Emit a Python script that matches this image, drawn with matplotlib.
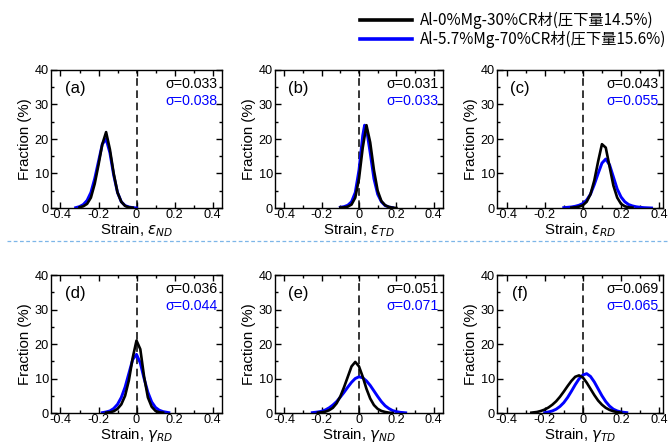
import matplotlib
matplotlib.use("Agg")
import matplotlib.pyplot as plt
from matplotlib.lines import Line2D
from matplotlib.ticker import MultipleLocator, FixedLocator, FixedFormatter

plt.rcParams['font.family'] = ['Liberation Sans', 'DejaVu Sans']
plt.rcParams['mathtext.fontset'] = 'dejavusans'

legend_labels = ["Al-0%Mg-30%CR材(圧下量14.5%)", "Al-5.7%Mg-70%CR材(圧下量15.6%)"]
panel_labels = ["(a)", "(b)", "(c)", "(d)", "(e)", "(f)"]
xlabels = [r"Strain, $\varepsilon_{ND}$", r"Strain, $\varepsilon_{TD}$", r"Strain, $\varepsilon_{RD}$",
           r"Strain, $\gamma_{RD}$", r"Strain, $\gamma_{ND}$", r"Strain, $\gamma_{TD}$"]
sigma_black = ["σ=0.033", "σ=0.031", "σ=0.043", "σ=0.036", "σ=0.051", "σ=0.069"]
sigma_blue = ["σ=0.038", "σ=0.033", "σ=0.055", "σ=0.044", "σ=0.071", "σ=0.065"]
xtick_vals = [-0.4, -0.2, 0, 0.2, 0.4]
xtick_labels = ["-0.4", "-0.2", "0", "0.2", "0.4"]
ytick_vals = [0, 10, 20, 30, 40]

# (a)
a_bx = [-0.30, -0.28, -0.26, -0.24, -0.22, -0.20, -0.18, -0.16, -0.14, -0.12, -0.10, -0.08, -0.06, -0.04, -0.02]
a_by = [0.2, 0.5, 1.2, 3.0, 7.0, 12.5, 18.5, 22.0, 17.0, 10.0, 4.5, 1.8, 0.6, 0.2, 0.1]
a_ux = [-0.32, -0.30, -0.28, -0.26, -0.24, -0.22, -0.20, -0.18, -0.16, -0.14, -0.12, -0.10, -0.08, -0.06, -0.04, -0.02, 0.0]
a_uy = [0.1, 0.4, 1.0, 2.2, 4.5, 8.5, 13.5, 18.5, 20.0, 16.0, 9.5, 4.5, 1.8, 0.7, 0.3, 0.1, 0.0]
# (b)
b_bx = [-0.10, -0.08, -0.06, -0.04, -0.02, 0.00, 0.02, 0.04, 0.06, 0.08, 0.10, 0.12, 0.14, 0.16, 0.18, 0.20]
b_by = [0.1, 0.2, 0.4, 1.0, 3.0, 8.5, 17.5, 24.0, 19.0, 11.0, 5.0, 2.0, 0.8, 0.3, 0.1, 0.0]
b_ux = [-0.10, -0.08, -0.06, -0.04, -0.02, 0.00, 0.02, 0.03, 0.04, 0.06, 0.08, 0.10, 0.12, 0.14, 0.16, 0.18]
b_uy = [0.2, 0.4, 0.8, 1.8, 4.5, 11.0, 21.0, 24.0, 23.0, 16.0, 8.5, 4.0, 1.8, 0.7, 0.3, 0.1]
# (c)
c_bx = [-0.06, -0.04, -0.02, 0.00, 0.02, 0.04, 0.06, 0.08, 0.10, 0.12, 0.14, 0.16, 0.18, 0.20, 0.22, 0.24, 0.26]
c_by = [0.1, 0.2, 0.4, 0.8, 1.8, 4.0, 8.0, 13.5, 18.5, 17.5, 12.0, 6.5, 3.0, 1.2, 0.5, 0.2, 0.1]
c_ux = [-0.10, -0.08, -0.06, -0.04, -0.02, 0.00, 0.02, 0.04, 0.06, 0.08, 0.10, 0.12, 0.14, 0.16, 0.18,
        0.20, 0.22, 0.24, 0.26, 0.28, 0.30, 0.32, 0.34, 0.36]
c_uy = [0.1, 0.2, 0.3, 0.5, 0.8, 1.3, 2.3, 4.0, 6.8, 10.0, 13.0, 14.2, 12.5, 9.0, 5.5,
        3.2, 1.8, 1.0, 0.6, 0.35, 0.2, 0.1, 0.05, 0.0]
# (d)
d_bx = [-0.16, -0.14, -0.12, -0.10, -0.08, -0.06, -0.04, -0.02, 0.00, 0.02, 0.04, 0.06, 0.08, 0.10, 0.12, 0.14]
d_by = [0.1, 0.2, 0.5, 1.2, 2.5, 5.0, 9.5, 16.0, 21.0, 18.5, 10.5, 4.5, 1.8, 0.6, 0.2, 0.1]
d_ux = [-0.18, -0.16, -0.14, -0.12, -0.10, -0.08, -0.06, -0.04, -0.02, 0.00, 0.02, 0.04, 0.06, 0.08,
        0.10, 0.12, 0.14, 0.16, 0.17]
d_uy = [0.1, 0.3, 0.6, 1.3, 2.5, 4.5, 7.5, 11.5, 15.5, 17.0, 14.5, 10.0, 6.0, 3.2, 1.6, 0.8, 0.4, 0.2, 0.1]
# (e)
e_bx = [-0.22, -0.20, -0.18, -0.16, -0.14, -0.12, -0.10, -0.08, -0.06, -0.04, -0.02, 0.00, 0.02, 0.04,
        0.06, 0.08, 0.10, 0.12, 0.14, 0.16, 0.18]
e_by = [0.1, 0.2, 0.4, 0.8, 1.5, 2.8, 4.8, 7.5, 10.5, 13.5, 14.8, 13.5, 10.5, 7.0, 4.2, 2.3, 1.2, 0.6, 0.3, 0.1, 0.0]
e_ux = [-0.25, -0.22, -0.20, -0.18, -0.16, -0.14, -0.12, -0.10, -0.08, -0.06, -0.04, -0.02, 0.00, 0.02,
        0.04, 0.06, 0.08, 0.10, 0.12, 0.14, 0.16, 0.18, 0.20, 0.22, 0.25]
e_uy = [0.1, 0.3, 0.5, 0.9, 1.5, 2.3, 3.3, 4.6, 6.0, 7.5, 8.9, 10.0, 10.5, 10.2, 9.3, 8.0, 6.4, 4.8, 3.3,
        2.1, 1.3, 0.7, 0.4, 0.2, 0.05]
# (f)
f_bx = [-0.27, -0.24, -0.22, -0.20, -0.18, -0.16, -0.14, -0.12, -0.10, -0.08, -0.06, -0.04, -0.02, 0.00,
        0.02, 0.04, 0.06, 0.08, 0.10, 0.12, 0.14, 0.16, 0.18, 0.20]
f_by = [0.1, 0.3, 0.6, 1.0, 1.6, 2.4, 3.4, 4.7, 6.2, 7.8, 9.3, 10.5, 10.9, 10.3, 8.8, 7.0, 5.2, 3.6, 2.4,
        1.5, 0.9, 0.5, 0.25, 0.1]
f_ux = [-0.20, -0.18, -0.16, -0.14, -0.12, -0.10, -0.08, -0.06, -0.04, -0.02, 0.00, 0.02, 0.04, 0.06,
        0.08, 0.10, 0.12, 0.14, 0.16, 0.18, 0.20, 0.23]
f_uy = [0.1, 0.3, 0.6, 1.1, 1.9, 3.0, 4.5, 6.3, 8.2, 9.9, 11.0, 11.4, 10.6, 9.0, 7.0, 5.0, 3.3, 2.0, 1.1,
        0.6, 0.3, 0.1]

black_series = [(a_bx, a_by), (b_bx, b_by), (c_bx, c_by), (d_bx, d_by), (e_bx, e_by), (f_bx, f_by)]
blue_series = [(a_ux, a_uy), (b_ux, b_uy), (c_ux, c_uy), (d_ux, d_uy), (e_ux, e_uy), (f_ux, f_uy)]

W, H = 670, 444
fig = plt.figure(figsize=(W / 100, H / 100), dpi=100)

# pixel boxes: left, top, right, bottom
boxes = [(51, 70, 222, 208), (275, 70, 443, 208), (497, 70, 663, 208),
         (51, 275, 222, 413), (275, 275, 443, 413), (497, 275, 663, 413)]
xlims = [(-0.45, 0.45), (-0.45, 0.45), (-0.45, 0.42),
         (-0.45, 0.45), (-0.45, 0.45), (-0.45, 0.42)]

BLUE = '#0000FF'
handles = None
for i, (l, t, r, b) in enumerate(boxes):
    ax = fig.add_axes([l / W, 1 - b / H, (r - l) / W, (b - t) / H])
    ax.axvline(0, color='black', ls=(0, (5, 3)), lw=1.1, zorder=1)
    hb, = ax.plot(*black_series[i], color='black', lw=1.9, zorder=3)
    hu, = ax.plot(*blue_series[i], color=BLUE, lw=2.1, zorder=2)
    if handles is None:
        handles = [hb, hu]
    ax.set_xlim(*xlims[i])
    ax.set_ylim(0, 40)
    ax.xaxis.set_major_locator(FixedLocator(xtick_vals))
    ax.xaxis.set_major_formatter(FixedFormatter(xtick_labels))
    ax.xaxis.set_minor_locator(MultipleLocator(0.1))
    ax.yaxis.set_major_locator(FixedLocator(ytick_vals))
    ax.yaxis.set_minor_locator(MultipleLocator(5))
    ax.tick_params(which='both', direction='in', top=True, right=True, width=1.0)
    ax.tick_params(which='major', length=4.5, labelsize=9.2)
    ax.tick_params(axis='x', which='major', pad=1.0)
    ax.tick_params(axis='y', which='major', pad=1.5)
    ax.tick_params(which='minor', length=2.5)
    for s in ax.spines.values():
        s.set_linewidth(1.0)
    ax.set_xlabel(xlabels[i], fontsize=10.8, labelpad=0)
    ax.set_ylabel("Fraction (%)", fontsize=10.8, labelpad=2)
    ax.text(0.14, 0.865, panel_labels[i], transform=ax.transAxes, fontsize=12,
            ha='center', va='center')
    ax.text(0.975, 0.90, sigma_black[i], transform=ax.transAxes, fontsize=10.2,
            ha='right', va='center', color='black')
    ax.text(0.975, 0.775, sigma_blue[i], transform=ax.transAxes, fontsize=10.2,
            ha='right', va='center', color=BLUE)

fig.legend(handles, legend_labels, loc='upper left', bbox_to_anchor=(360 / W, 1 - 12 / H),
           frameon=False, prop={'family': ['Noto Sans CJK JP', 'DejaVu Sans'], 'size': 11},
           handlelength=3.4, handletextpad=0.55, labelspacing=0.12, borderpad=0, borderaxespad=0)
for h in fig.legends[0].legend_handles:
    h.set_linewidth(2.6)

fig.add_artist(Line2D([7 / W, 668 / W], [1 - 241 / H, 1 - 241 / H], transform=fig.transFigure,
                      color='#7DB6E8', lw=0.9, ls=(0, (3, 2))))

fig.savefig("out.png", dpi=100)
